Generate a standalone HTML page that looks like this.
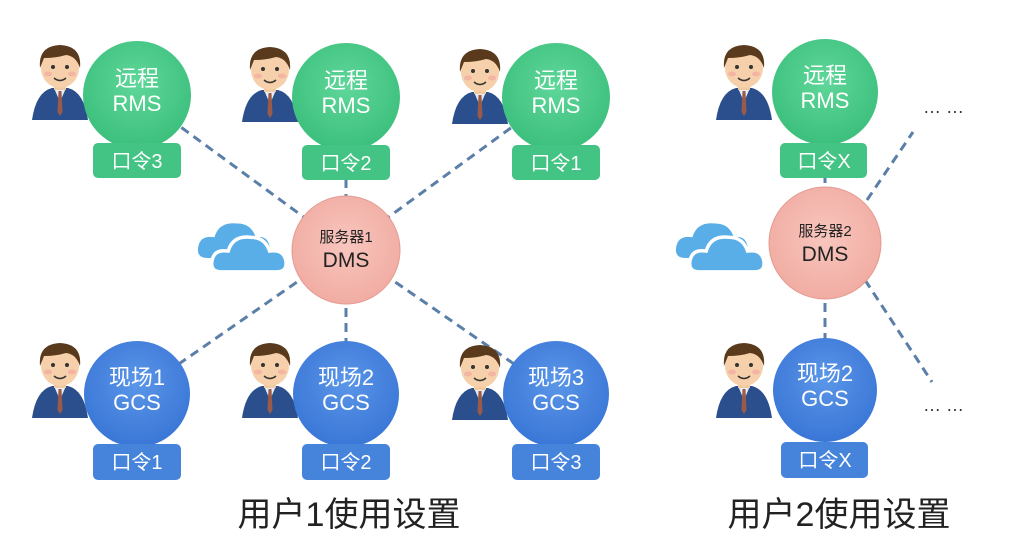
<!DOCTYPE html>
<html><head><meta charset="utf-8"><style>
html,body{margin:0;padding:0;background:#fff;}
svg{display:block;}
text{font-family:"Liberation Sans","Noto Sans CJK SC",sans-serif;}
</style></head><body>
<svg width="1018" height="543" viewBox="0 0 1018 543" xmlns="http://www.w3.org/2000/svg">
<defs>
<radialGradient id="gg" cx="50%" cy="40%" r="60%"><stop offset="0" stop-color="#5fd79a"/><stop offset="1" stop-color="#3cbf7c"/></radialGradient>
<radialGradient id="bg" cx="50%" cy="40%" r="60%"><stop offset="0" stop-color="#5a96e8"/><stop offset="1" stop-color="#3a76d6"/></radialGradient>
<radialGradient id="pg" cx="50%" cy="45%" r="60%"><stop offset="0" stop-color="#f8c6be"/><stop offset="1" stop-color="#f0aaa0"/></radialGradient>
<g id="person">
  <path d="M0 78 Q4 50 20 46 L36 46 Q52 50 56 78 Z" fill="#2b4f8c"/>
  <path d="M22 46 L28 60 L34 46 Z" fill="#e8eef5"/>
  <path d="M26.5 49 L29.5 49 L30.5 70 L28 74 L25.5 70 Z" fill="#9a5a4a"/>
  <rect x="22" y="36" width="12" height="12" fill="#f0c9a0"/>
  <ellipse cx="28" cy="26" rx="19" ry="20" fill="#f6d0aa"/>
  <path d="M8 26 Q6 4 28 3 Q50 4 48 26 Q44 14 34 13 Q24 16 12 16 Z" fill="#5a3a1c"/>
  <circle cx="21" cy="25" r="2" fill="#333"/><circle cx="35" cy="25" r="2" fill="#333"/>
  <ellipse cx="16" cy="32" rx="4" ry="2.5" fill="#f4a8a0" opacity=".7"/><ellipse cx="40" cy="32" rx="4" ry="2.5" fill="#f4a8a0" opacity=".7"/>
  <path d="M22 36 Q28 41 34 36" stroke="#333" stroke-width="1.5" fill="none"/>
</g>
<g id="cloud">
  <path d="M10 40 Q0 40 2 30 Q4 20 16 22 Q20 8 36 10 Q48 10 52 22 Q62 20 64 30 Q66 40 56 40 Z" fill="#5aaee8"/>
  <path d="M22 52 Q12 52 14 42 Q16 32 28 34 Q32 20 48 22 Q60 22 64 34 Q76 32 78 42 Q80 52 70 52 Z" fill="#5aaee8" stroke="#fff" stroke-width="3"/>
</g>
</defs>

<g stroke="#5b7fa8" stroke-width="3" stroke-dasharray="9,6" fill="none">
  <line x1="346" y1="248" x2="137" y2="95"/>
  <line x1="346" y1="248" x2="346" y2="95"/>
  <line x1="346" y1="248" x2="556" y2="95"/>
  <line x1="346" y1="248" x2="137" y2="393"/>
  <line x1="346" y1="248" x2="346" y2="393"/>
  <line x1="346" y1="248" x2="556" y2="393"/>
  <line x1="825" y1="243" x2="825" y2="92"/>
  <line x1="825" y1="243" x2="825" y2="390"/>
  <line x1="867" y1="200" x2="913" y2="132"/>
  <line x1="865" y1="280" x2="932" y2="382"/>
</g>

<use href="#person" x="32" y="42"/>
<use href="#person" x="242" y="44"/>
<use href="#person" x="452" y="46"/>
<use href="#person" x="716" y="42"/>
<use href="#person" x="32" y="340"/>
<use href="#person" x="242" y="340"/>
<use href="#person" x="452" y="342"/>
<use href="#person" x="716" y="340"/>

<use href="#cloud" transform="translate(196,212) scale(1.15)"/>
<use href="#cloud" transform="translate(674,212) scale(1.15)"/>

<g fill="url(#gg)">
<circle cx="137" cy="95" r="54"/><circle cx="346" cy="97" r="54"/><circle cx="556" cy="97" r="54"/><circle cx="825" cy="92" r="53"/>
</g>
<g fill="url(#bg)">
<circle cx="137" cy="394" r="53"/><circle cx="346" cy="394" r="53"/><circle cx="556" cy="394" r="53"/><circle cx="825" cy="390" r="52"/>
</g>
<circle cx="346" cy="250" r="54" fill="url(#pg)" stroke="#e59a90" stroke-width="1"/>
<circle cx="825" cy="243" r="56" fill="url(#pg)" stroke="#e59a90" stroke-width="1"/>

<g fill="#43c484">
<rect x="93" y="143" width="88" height="35" rx="5"/><rect x="302" y="145" width="88" height="35" rx="5"/><rect x="512" y="145" width="88" height="35" rx="5"/><rect x="780" y="143" width="87" height="35" rx="5"/>
</g>
<g fill="#4684dc">
<rect x="93" y="444" width="88" height="36" rx="5"/><rect x="302" y="444" width="88" height="36" rx="5"/><rect x="512" y="444" width="88" height="36" rx="5"/><rect x="781" y="442" width="87" height="36" rx="5"/>
</g>

<g fill="#fff" font-size="22" text-anchor="middle">
<text x="137" y="86">远程</text><text x="137" y="111">RMS</text>
<text x="346" y="88">远程</text><text x="346" y="113">RMS</text>
<text x="556" y="88">远程</text><text x="556" y="113">RMS</text>
<text x="825" y="83">远程</text><text x="825" y="108">RMS</text>
<text x="137" y="385">现场1</text><text x="137" y="410">GCS</text>
<text x="346" y="385">现场2</text><text x="346" y="410">GCS</text>
<text x="556" y="385">现场3</text><text x="556" y="410">GCS</text>
<text x="825" y="381">现场2</text><text x="825" y="406">GCS</text>
</g>
<g fill="#fff" font-size="20" text-anchor="middle">
<text x="137" y="168">口令3</text><text x="346" y="170">口令2</text><text x="556" y="170">口令1</text><text x="824" y="168">口令X</text>
<text x="137" y="469">口令1</text><text x="346" y="469">口令2</text><text x="556" y="469">口令3</text><text x="825" y="467">口令X</text>
</g>
<g fill="#222" text-anchor="middle">
<text x="346" y="242" font-size="15">服务器1</text><text x="346" y="267" font-size="21">DMS</text>
<text x="825" y="236" font-size="15">服务器2</text><text x="825" y="261" font-size="21">DMS</text>
</g>
<g fill="#333" font-size="18"><text x="923" y="113">… …</text><text x="923" y="411">… …</text></g>
<g fill="#222" font-size="34" text-anchor="middle">
<text x="349" y="526">用户1使用设置</text><text x="839" y="526">用户2使用设置</text>
</g>
</svg>
</body></html>
